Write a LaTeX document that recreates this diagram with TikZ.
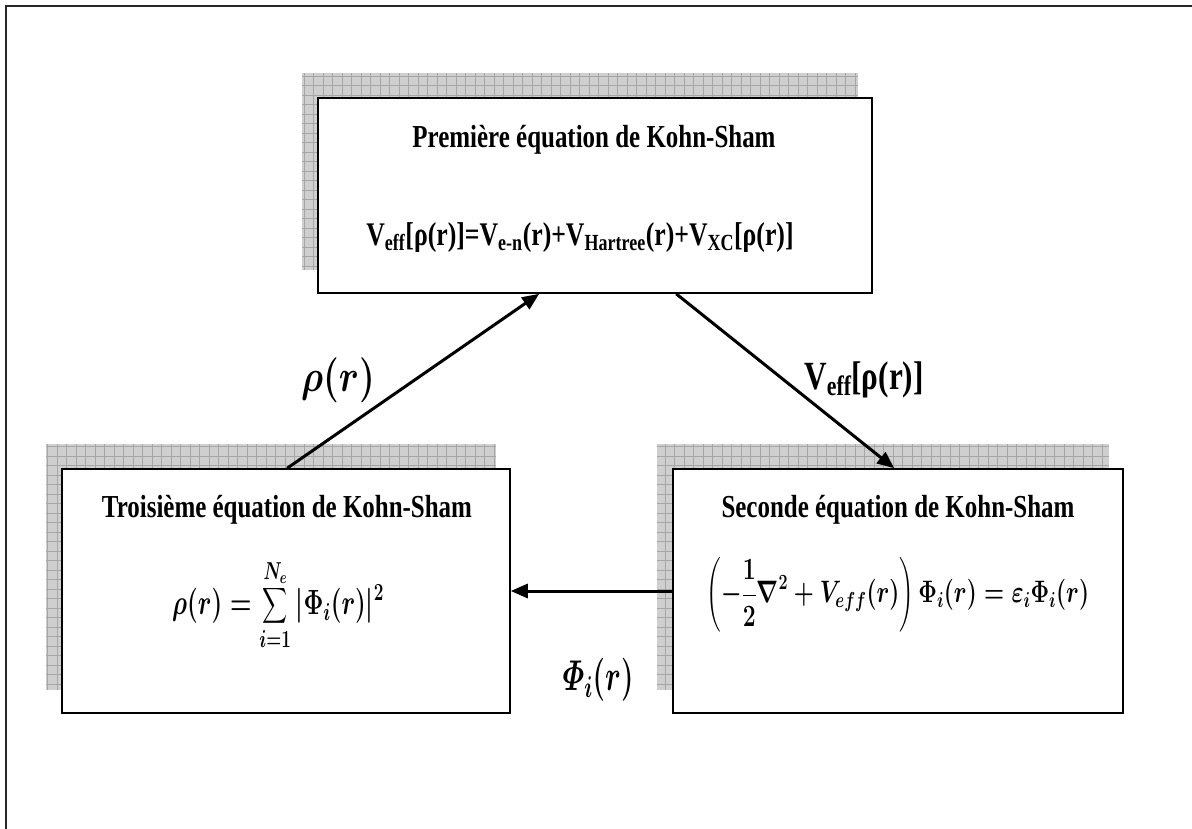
\RequirePackage{fix-cm}
\documentclass[tikz,border=0pt]{standalone}
\usepackage{amsmath}
\usepackage{fontspec}
\setmainfont{Liberation Serif}
\newfontfamily\cfont[FakeStretch=0.78]{Liberation Serif Bold}
\usepackage{graphicx}
\usetikzlibrary{arrows.meta,calc,backgrounds}
\newcommand\kshadow[1]{%
  \begin{scope}
    \clip ([shift={(-15,-24)}]#1.north west) rectangle ([shift={(-15,-24)}]#1.south east);
    \fill[gray!38] (0,0) rectangle (1192,829);
    \draw[gray!70, line width=0.7pt, step=9.5pt] (0,0) grid (1192,829);
  \end{scope}}
\tikzset{
  kbox/.style={draw=black, line width=1.6pt, fill=white, inner sep=0pt},
  ktitle/.style={inner sep=0pt, font=\cfont\fontsize{32}{38}\selectfont},
  keq/.style={inner sep=0pt},
  conn/.style={line width=3pt, -{Triangle[length=17pt,width=14pt]}},
  klabel/.style={inner sep=0pt}
}
\begin{document}
\begin{tikzpicture}[x=1pt,y=-1pt]
\useasboundingbox (0,0) rectangle (1192,829);

% boxes
\node[kbox, minimum width=554pt, minimum height=195pt] (top) at (595,195.5) {};
\node[kbox, minimum width=448pt, minimum height=244pt] (left) at (286,591) {};
\node[kbox, minimum width=450pt, minimum height=244pt] (right) at (898,591) {};

\begin{scope}[on background layer]
  \fill[white] (0,0) rectangle (1192,829);
  \draw[line width=2.5pt, black!85] (6,829) -- (6,6) -- (1192,6);
  \kshadow{top}
  \kshadow{left}
  \kshadow{right}
\end{scope}

% texts
\node[ktitle] (t1) at (594,140) {Première équation de Kohn-Sham};
\node[keq] (e1) at (580,238) {\cfont\fontsize{33}{40}\selectfont V\textsubscript{eff}[ρ(r)]=V\textsubscript{e-n}(r)+V\textsubscript{Hartree}(r)+V\textsubscript{XC}[ρ(r)]};

\node[ktitle] (t3) at (287,510) {Troisième équation de Kohn-Sham};
\node[keq] (e3) at (278,605) {\fontsize{35}{40}\selectfont\scalebox{0.70}[1]{$\boldsymbol{\displaystyle \rho(r)=\sum_{i=1}^{N_e}|\Phi_i(r)|^2}$}};

\node[ktitle] (t2) at (898,510) {Seconde équation de Kohn-Sham};
\node[keq] (e2) at (898,595) {\fontsize{31}{36}\selectfont\scalebox{0.74}[1]{$\boldsymbol{\displaystyle \left(-\frac{1}{2}\nabla^2+V_{eff}(r)\right)\Phi_i(r)=\varepsilon_i\Phi_i(r)}$}};

% connectors
\draw[conn] ([xshift=226pt]left.north west) -- ([xshift=222pt]top.south west);
\draw[conn] ([xshift=359pt]top.south west) -- ([xshift=222pt]right.north west);
\draw[conn] (right.west) -- (left.east);

% labels
\node[klabel] (l1) at (338,380) {\fontsize{45}{50}\selectfont\scalebox{0.8}[1]{$\boldsymbol{\rho(r)}$}};
\node[klabel] (l2) at (864,380) {\cfont\fontsize{40}{48}\selectfont V\textsubscript{eff}[ρ(r)]};
\node[klabel] (l3) at (598,680) {\fontsize{43}{50}\selectfont\scalebox{0.66}[1]{$\boldsymbol{\varPhi_i(r)}$}};
\end{tikzpicture}
\end{document}
